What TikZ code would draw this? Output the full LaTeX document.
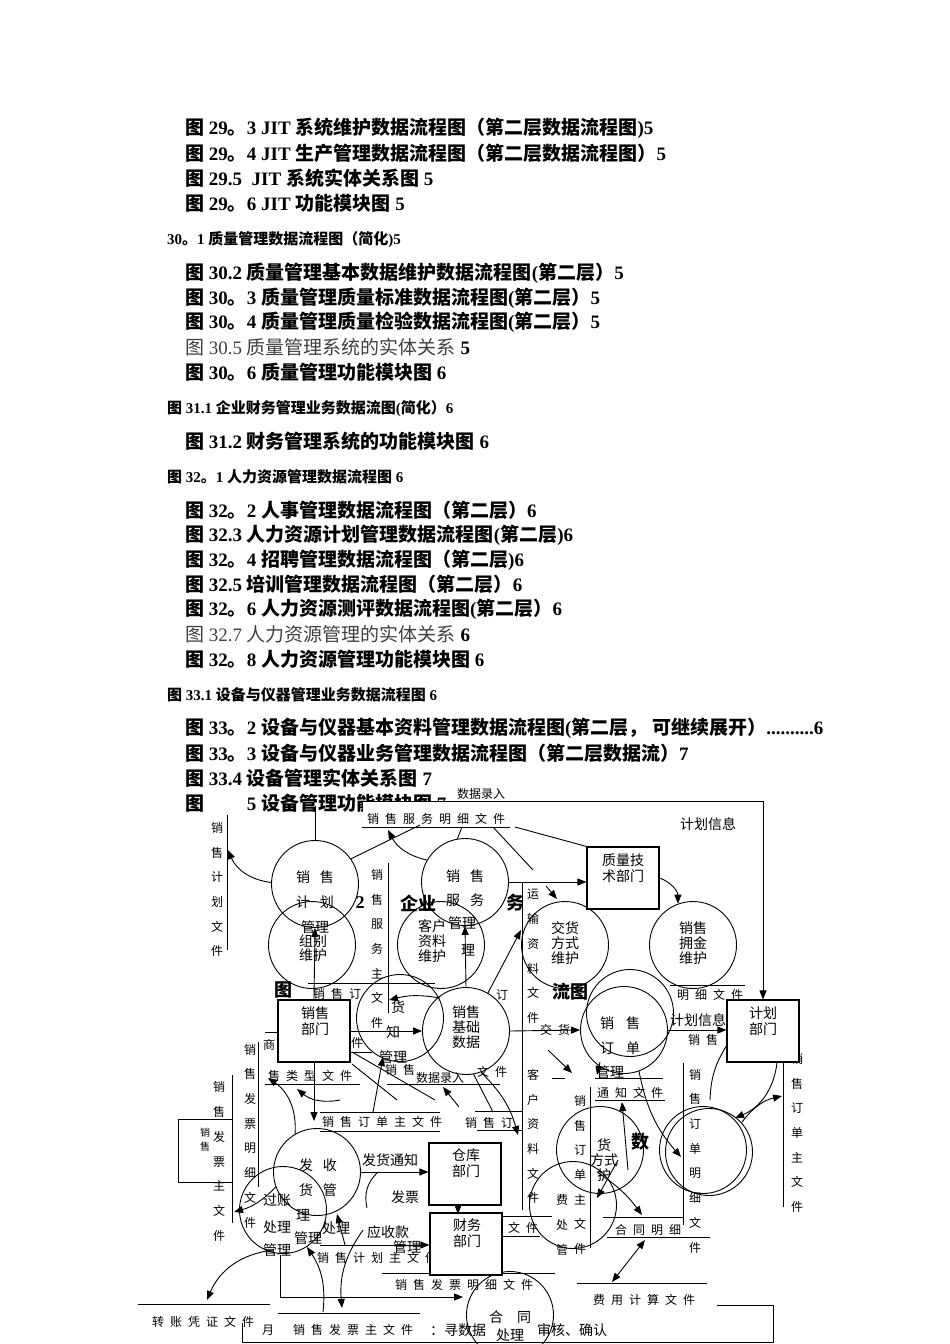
\documentclass[tikz,border=0pt]{standalone}
\usepackage{fontspec}
\setmainfont{Liberation Serif}
\newfontfamily\cjk{Noto Sans CJK SC}
\usetikzlibrary{arrows.meta}
\XeTeXinterchartokenstate=1
\newXeTeXintercharclass\CJKcls
\newcount\cc
\cc="4E00 \loop \XeTeXcharclass\cc=\CJKcls\relax \ifnum\cc<"9FFF \advance\cc by 1 \repeat
\cc="3000 \loop \XeTeXcharclass\cc=\CJKcls\relax \ifnum\cc<"303F \advance\cc by 1 \repeat
\cc="FF00 \loop \XeTeXcharclass\cc=\CJKcls\relax \ifnum\cc<"FFEF \advance\cc by 1 \repeat
\cc="21 \loop \XeTeXcharclass\cc=0\relax \ifnum\cc<"7E \advance\cc by 1 \repeat
\XeTeXinterchartoks 0 \CJKcls = {\cjk}
\XeTeXinterchartoks 4095 \CJKcls = {\cjk}
\XeTeXinterchartoks \CJKcls 0 = {\rmfamily}
\XeTeXinterchartoks \CJKcls 4095 = {\rmfamily}
\def\lsp#1{\lspi#1\relax}
\def\lspi#1{\ifx\relax#1\else#1\hskip6pt\relax\expandafter\lspi\fi}
\tikzset{
  ln/.style={line width=0.9pt},
  arr/.style={line width=0.9pt,-{Triangle[length=9pt,width=7pt]}},
  darr/.style={line width=0.9pt,{Triangle[length=9pt,width=7pt]}-{Triangle[length=9pt,width=7pt]}},
  proc/.style={circle,draw,line width=0.9pt,minimum size=87pt,inner sep=0pt},
  ent/.style={draw,line width=1.1pt,fill=white,minimum width=72pt,minimum height=62pt,inner sep=0pt},
  lbl/.style={inner sep=0pt,align=center,font=\fontsize{14}{15}\selectfont},
  sml/.style={inner sep=0pt,font=\fontsize{12}{13}\selectfont},
  hst/.style={anchor=west,inner sep=0pt,font=\fontsize{12}{13}\selectfont},
  vst/.style={inner sep=0pt,align=center,font=\fontsize{12}{24.7}\selectfont},
  frag/.style={inner sep=0pt,font=\fontsize{18}{19}\bfseries},
  toc/.style={anchor=west,inner sep=0pt,font=\fontsize{19}{20}\bfseries},
  tocr/.style={anchor=west,inner sep=0pt,text=black!75,font=\fontsize{19}{20}\selectfont},
  tocs/.style={anchor=west,inner sep=0pt,font=\fontsize{15}{16}\bfseries},
}
\begin{document}
\begin{tikzpicture}[x=1pt,y=-1pt]
\useasboundingbox[fill=white] (0,0) rectangle (950,1344);
% ---------- table of contents ----------
\node[toc] (t1) at (185,128) {图 29。3 JIT 系统维护数据流程图（第二层数据流程图)5};
\node[toc] (t2) at (185,153) {图 29。4 JIT 生产管理数据流程图（第二层数据流程图）5};
\node[toc] (t3) at (185,178) {图 29.5\ \ JIT 系统实体关系图 5};
\node[toc] (t4) at (185,203) {图 29。6 JIT 功能模块图 5};
\node[tocs] (t5) at (167,240) {30。1 质量管理数据流程图（简化)5};
\node[toc] (t6) at (185,273) {图 30.2 质量管理基本数据维护数据流程图(第二层）5};
\node[toc] (t7) at (185,298) {图 30。3 质量管理质量标准数据流程图(第二层）5};
\node[toc] (t8) at (185,322) {图 30。4 质量管理质量检验数据流程图(第二层）5};
\node[tocr] (t9) at (185,347) {图 30.5 质量管理系统的实体关系 \textcolor{black}{\bfseries 5}};
\node[toc] (t10) at (185,372) {图 30。6 质量管理功能模块图 6};
\node[tocs] (t11) at (167,409) {图 31.1 企业财务管理业务数据流图(简化）6};
\node[toc] (t12) at (185,441) {图 31.2 财务管理系统的功能模块图 6};
\node[tocs] (t13) at (167,477) {图 32。1 人力资源管理数据流程图 6};
\node[toc] (t14) at (185,510) {图 32。2 人事管理数据流程图（第二层）6};
\node[toc] (t15) at (185,535) {图 32.3 人力资源计划管理数据流程图(第二层)6};
\node[toc] (t16) at (185,560) {图 32。4 招聘管理数据流程图（第二层)6};
\node[toc] (t17) at (185,584) {图 32.5 培训管理数据流程图（第二层）6};
\node[toc] (t18) at (185,609) {图 32。6 人力资源测评数据流程图(第二层）6};
\node[tocr] (t19) at (185,634) {图 32.7 人力资源管理的实体关系 \textcolor{black}{\bfseries 6}};
\node[toc] (t20) at (185,659) {图 32。8 人力资源管理功能模块图 6};
\node[tocs] (t21) at (167,695) {图 33.1 设备与仪器管理业务数据流程图 6};
\node[toc] (t22) at (185,728) {图 33。2 设备与仪器基本资料管理数据流程图(第二层， 可继续展开）..........6};
\node[toc] (t23) at (185,753) {图 33。3 设备与仪器业务管理数据流程图（第二层数据流）7};
\node[toc] (t24) at (185,778) {图 33.4 设备管理实体关系图 7};
\node[toc] (t25) at (185,803) {图 33。5 设备管理功能模块图 7};
\fill[white] (207,797) rectangle (240,815);
\fill[white] (363,801) rectangle (766,815);
% ---------- hidden-title fragments ----------
\node[frag] (f1) at (360,903) {2};
\node[frag] (f2) at (418,903) {企业};
\node[frag] (f3) at (515,903) {务};
\node[frag] (f4) at (283,990) {图};
\node[frag] (f5) at (570,992) {流图};
\node[frag] (f6) at (640,1142) {数};
% ---------- vertical data stores ----------
\draw[ln] (227,815) -- (227,950);
\node[vst] (s1) at (217,889.5) {销\\售\\计\\划\\文\\件};
\draw[ln] (388,863) -- (388,1013);
\node[vst] (s2) at (377,949) {销\\售\\服\\务\\主\\文\\件};
\draw[ln] (522,882) -- (522,1210);
\node[vst] (s3) at (533,956.5) {运\\输\\资\\料\\文\\件};
\node[vst] (s3b) at (533,1136.5) {客\\户\\资\\料\\文\\件};
\draw[ln] (258,1042) -- (258,1187);
\node[vst] (s4) at (250,1136) {销\\售\\发\\票\\明\\细\\文\\件};
\draw[ln] (232,1075) -- (232,1223);
\node[vst] (s5) at (219,1161.5) {销\\售\\发\\票\\主\\文\\件};
\draw[ln] (590,1087) -- (590,1248);
\node[vst] (s6) at (580,1175) {销\\售\\订\\单\\主\\文\\件};
\draw[ln] (683,1063) -- (683,1225);
\node[vst] (s7) at (695,1161) {销\\售\\订\\单\\明\\细\\文\\件};
\draw[ln] (783,1063) -- (783,1207);
\node[vst] (s8) at (797,1133) {销\\售\\订\\单\\主\\文\\件};
\node[vst] (s9) at (562,1225) {费\\处\\管};
% ---------- horizontal data stores ----------
\node[hst] (h1) at (367,819) {\lsp{销售服务明细文件}};
\draw[ln] (362,827) -- (510,827);
\node[hst] (h2) at (313,994) {\lsp{销售订}};
\draw[ln] (308,983) -- (435,983);
\node[hst] (h2b) at (496,995) {订};
\node[hst] (h3) at (677,995) {\lsp{明细文件}};
\draw[ln] (670,985) -- (745,985);
\node[hst] (h4) at (263,1045) {商};
\node[hst] (h4b) at (351,1043) {件};
\draw[ln] (265,1032) -- (278,1032);
\draw[ln] (350,1052) -- (372,1052);
\node[hst] (h5) at (268,1076) {\lsp{售类型文件}};
\draw[ln] (265,1084) -- (360,1084);
\node[hst] (h6) at (322,1122) {\lsp{销售订单主文件}};
\draw[ln] (320,1112) -- (440,1112);
\draw[ln] (320,1131) -- (440,1131);
\node[hst] (h7) at (385,1070) {\lsp{销售}};
\node[sml] (h7b) at (440,1078) {数据录入};
\node[hst] (h7c) at (477,1072) {\lsp{文件}};
\draw[ln] (387,1084) -- (500,1084);
\node[hst] (h8) at (465,1123) {\lsp{销售订}};
\draw[ln] (475,1111) -- (522,1111);
\draw[ln] (477,1130) -- (522,1130);
\node[hst] (h9) at (597,1093) {\lsp{通知文件}};
\draw[ln] (552,1078) -- (565,1078);
\draw[ln] (595,1078) -- (663,1078);
\draw[ln] (595,1100) -- (665,1100);
\node[hst] (h10) at (615,1230) {\lsp{合同明细}};
\draw[ln] (603,1217) -- (683,1217);
\draw[ln] (607,1237) -- (710,1237);
\node[hst] (h11) at (317,1258) {\lsp{销售计划主文件}};
\node[hst] (h12) at (395,1285) {\lsp{销售发票明细文件}};
\draw[ln] (382,1273) -- (555,1273);
\node[hst] (h13) at (593,1300) {\lsp{费用计算文件}};
\draw[ln] (577,1283) -- (707,1283);
\node[hst] (h14) at (152,1322) {\lsp{转账凭证文件}};
\draw[ln] (138,1304) -- (270,1304);
\node[hst] (h15a) at (262,1330) {月};
\node[hst] (h15) at (293,1330) {\lsp{销售发票主文件}};
\draw[ln] (278,1313) -- (420,1313);
\node[hst] (h16) at (508,1228) {\lsp{文件}};
\draw[ln] (502,1216) -- (552,1216);
\draw[ln] (502,1236) -- (540,1236);
\node[lbl,anchor=west] (b1) at (430,1330) {：寻数据};
\node[lbl,anchor=west] (b2) at (537,1330) {审核、确认};
\draw[ln] (242,1323) -- (242,1342) -- (773,1342) -- (773,1305) -- (717,1305);
% ---------- processes ----------
\node[proc] (jh) at (315,884) {};
\node[proc] (zb) at (312,945) {};
\node[proc] (sf) at (465,882) {};
\node[proc] (kh) at (441,945) {};
\node[proc] (jf) at (565,945) {};
\node[proc] (yj) at (693,945) {};
\node[proc] (jc) at (466,1031) {};
\node[proc] (dd2) at (630,1013) {};
\node[proc] (dd) at (624,1030) {};
\node[proc] (fh) at (400,1018) {};
\node[proc] (sh) at (317,1172) {};
\node[proc] (gz) at (283,1210) {};
\node[proc] (ht) at (510,1315) {};
\node[proc] (c1) at (703,1150) {};
\node[proc] (c1b) at (709,1152) {};
\node[proc] (fy) at (573,1205) {};
\node[proc] (jf2) at (600,1150) {};
% process texts
\node[lbl] (jht1) at (315,877) {销\hspace{10pt}售};
\node[lbl] (jht2) at (315,902) {计\hspace{10pt}划};
\node[lbl] (jht3) at (315,927) {管理};
\node[lbl,font=\fontsize{14}{10}\selectfont] (zbt) at (313,948) {组别\\维护};
\node[lbl] (sft1) at (465,876) {销\hspace{10pt}售};
\node[lbl] (sft2) at (465,900) {服\hspace{10pt}务};
\node[lbl] (sft3) at (462,923) {管理};
\node[lbl] (sft4) at (468,950) {理};
\node[lbl] (kht) at (432,941) {客户\\资料\\维护};
\node[lbl] (jft) at (565,943) {交货\\方式\\维护};
\node[lbl] (yjt) at (693,943) {销售\\拥金\\维护};
\node[lbl] (jct) at (466,1027) {销售\\基础\\数据};
\node[lbl] (ddt1) at (620,1023) {销\hspace{12pt}售};
\node[lbl] (ddt2) at (620,1048) {订\hspace{12pt}单};
\node[lbl] (ddt3) at (610,1072) {管理};
\node[lbl] (fht1) at (398,1007) {货};
\node[lbl] (fht2) at (393,1032) {知};
\node[lbl] (fht3) at (393,1057) {管理};
\node[lbl] (sht1) at (318,1165) {发\hspace{10pt}收};
\node[lbl] (sht2) at (318,1190) {货\hspace{10pt}管};
\node[lbl] (sht3) at (303,1215) {理};
\node[lbl] (sht4) at (308,1238) {管理};
\node[lbl] (gzt1) at (277,1200) {过账};
\node[lbl] (gzt2) at (277,1227) {处理};
\node[lbl] (gzt3) at (277,1250) {管理};
\node[lbl] (htt1) at (510,1317) {合\hspace{14pt}同};
\node[lbl] (htt2) at (510,1335) {处理};
\node[lbl] (jf2t) at (604,1160) {货\\方式\\护};
% ---------- external entities ----------
\node[ent] (zl) at (623,878) {};
\node[lbl,font=\fontsize{14}{16}\selectfont] (zlt) at (623,868) {质量技\\术部门};
\node[ent] (jb) at (763,1031) {};
\node[lbl,font=\fontsize{14}{16}\selectfont] (jbt) at (763,1021) {计划\\部门};
\node[ent] (xb) at (314,1031) {};
\node[lbl,font=\fontsize{14}{16}\selectfont] (xbt) at (315,1021) {销售\\部门};
\node[ent] (ck) at (465,1174) {};
\node[lbl,font=\fontsize{14}{16}\selectfont] (ckt) at (466,1163) {仓库\\部门};
\node[ent] (cw) at (466,1244) {};
\node[lbl,font=\fontsize{14}{16}\selectfont] (cwt) at (467,1233) {财务\\部门};
\draw[ln] (232,1119) -- (178,1119) -- (178,1182) -- (232,1182);
\node[inner sep=0pt,align=center,font=\fontsize{10}{14}\selectfont] (lbx) at (205,1140) {销\\售};
% ---------- labels ----------
\node[sml] (l1) at (481,794) {数据录入};
\node[lbl] (l2) at (708,824) {计划信息};
\node[lbl] (l3) at (698,1020) {计划信息};
\node[hst] (l4) at (688,1040) {\lsp{销售}};
\node[hst] (l5) at (540,1030) {\lsp{交货}};
\node[lbl] (l6) at (390,1160) {发货通知};
\node[lbl] (l7) at (405,1197) {发票};
\node[lbl] (l8) at (388,1232) {应收款};
\node[lbl] (l9) at (407,1247) {管理};
\node[lbl] (l10) at (336,1228) {处理};
% ---------- connectors ----------
\coordinate (fr1) at (363,801);
\coordinate (jhtop) at (315,806);
\draw[ln] (jh.north) -- (jhtop);
\draw[arr] (fr1) -- (fr1 -| jb.north) -- (jb.north);
\draw[arr] (jh.178) to[bend left=30] (228,850);
\draw[arr] (sf.150) to[bend left=25] (388,830);
\draw[ln] (515,827) -- (zl.north west);
\draw[arr] (sf.east) -- (sf.east -| zl.west);
\draw[arr] (zl.east) to[bend left=35] (yj.110);
\draw[ln] (jh.35) -- (420,825);
\draw[ln] (sf.100) -- (462,827);
\draw[ln] (493,827) -- (533,870);
\draw[arr] (546,886) -- (557,899);
\draw[arr] (jc.north) -- (sf.south);
\draw[arr] (xb.north) -- (jh.south);
\draw[arr] (jc.60) -- (521,930);
\draw[arr] (440,998) to[bend right=12] (389,1000);
\draw[arr] (xb.east) -- (jc.west);
\coordinate (h6t) at (318,1121);
\draw[arr] (xb.south) -- (xb.south |- h6t);
\draw[arr] (373,1112) -- (383,1057);
\draw[arr] (sh.120) to[bend right=30] (268,1078);
\draw[arr] (340,1100) to[bend left=25] (297,1089);
\draw[ln] (352,1052) -- (435,1100);
\draw[ln] (352,1064) -- (397,1100);
\draw[arr] (459,1107) -- (443,1087);
\draw[arr] (jc.290) to[bend left=15] (518,1135);
\draw[ln] (jc.280) -- (493,1112);
\draw[arr] (jc.east) -- (dd.west);
\draw[arr] (dd.east) -- (dd.east -| jb.west);
\draw[ln] (710,1100) to[bend left=15] (727,1045);
\draw[arr] (777,1063) to[bend left=30] (735,1118);
\draw[arr] (742,1122) to[bend left=20] (782,1096);
\draw[arr] (600,1062) -- (597,1075);
\draw[arr] (548,1050) -- (572,1073);
\draw[arr] (628,1170) -- (622,1102);
\draw[arr] (dd.290) to[bend right=15] (681,1157);
\draw[arr] (597,1172) to[bend left=10] (642,1215);
\draw[arr] (618,1160) -- (597,1198);
\draw[darr] (645,1240) -- (612,1282);
\draw[arr] (sh.east) -- (sh.east -| ck.west);
\coordinate (cwa) at (320,1245);
\draw[arr] (cwa) -- (cwa -| cw.west);
\draw[arr] (345,1245) -- (337,1214);
\draw[arr] (323,1312) to[bend right=20] (307,1247);
\draw[arr] (363,1230) to[bend right=20] (342,1308);
\draw[arr] (273,1250) to[bend right=30] (207,1300);
\draw[arr] (sh.200) to[bend left=15] (234,1212);
\draw[arr] (280,1255) -- (280,1297) -- (463,1297);
\draw[ln] (378,1172) to[bend right=30] (367,1208);
\draw[arr] (458,1205) -- (458,1214);
\end{tikzpicture}
\end{document}
